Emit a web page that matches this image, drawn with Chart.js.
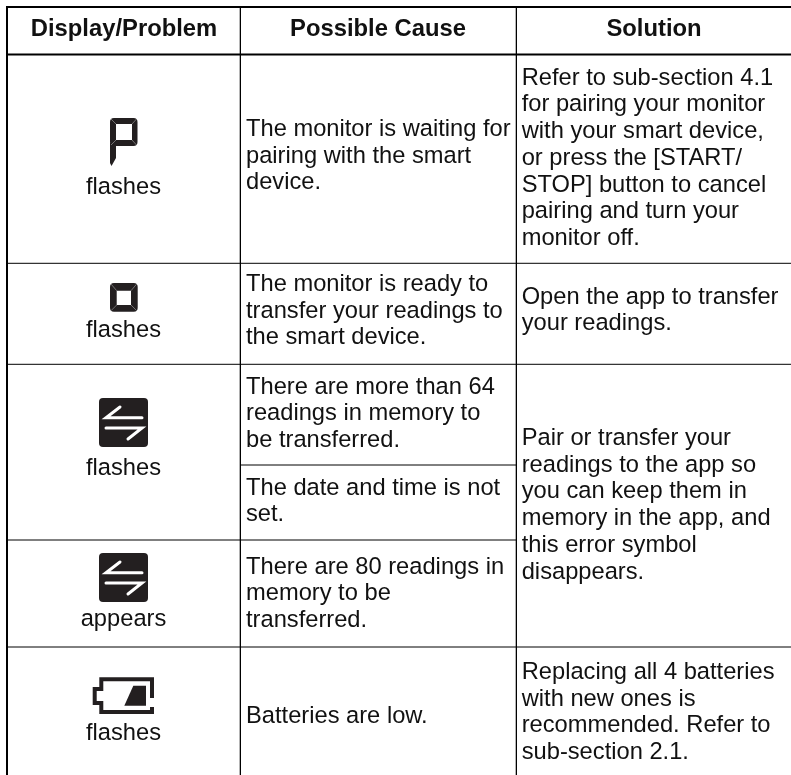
<!DOCTYPE html>
<html><head><meta charset="utf-8">
<style>html,body{margin:0;padding:0;background:#fff}#w{width:791px;height:775px;position:relative}</style>
<script src="https://cdn.jsdelivr.net/npm/chart.js@4"></script></head>
<body><div id="w"><canvas id="c" width="791" height="775"></canvas></div>
<script>
const columns = ["Display/Problem", "Possible Cause", "Solution"];
const displayLabels = ["flashes", "flashes", "flashes", "appears", "flashes"];
const causes = [
 ["The monitor is waiting for","pairing with the smart","device."],
 ["The monitor is ready to","transfer your readings to","the smart device."],
 ["There are more than 64","readings in memory to","be transferred."],
 ["The date and time is not","set."],
 ["There are 80 readings in","memory to be","transferred."],
 ["Batteries are low."]
];
const solutions = [
 ["Refer to sub-section 4.1","for pairing your monitor","with your smart device,","or press the [START/","STOP] button to cancel","pairing and turn your","monitor off."],
 ["Open the app to transfer","your readings."],
 ["Pair or transfer your","readings to the app so","you can keep them in","memory in the app, and","this error symbol","disappears."],
 ["Replacing all 4 batteries","with new ones is","recommended. Refer to","sub-section 2.1."]
];
const colEdges = [7, 240.4, 516.4, 791];
const rowEdges = [7, 54.5, 263.3, 364.3, 465, 540, 647, 775];
const F = '"Liberation Sans", Arial, sans-serif';
const LH = 26.7;
const labelBase = [194, 337, 475, 626, 740];
const causeBase = [136, 291, 393.7, 494.5, 573.5, 723];
const solutionBase = [84.7, 303.5, 445, 679];
const headerCenters = [124, 378, 654];
function seg(x0,y0,x1,y1,w){return {type:'line',data:[{x:x0,y:y0},{x:x1,y:y1}],borderColor:'#000',borderWidth:w,pointRadius:0,fill:false,tension:0};}
const [cL,c1,c2,cR]=colEdges, R=rowEdges;
const rules=[
 seg(cL-1,R[0],cR,R[0],2), seg(cL-1,R[1],cR,R[1],2.2),
 seg(cL,R[2],cR,R[2],1), seg(cL,R[3],cR,R[3],1),
 seg(c1,R[4],c2,R[4],1), seg(cL,R[5],c2,R[5],1),
 seg(cL,R[6],cR,R[6],1),
 seg(cL,R[0],cL,R[7],2), seg(c1,R[0],c1,R[7],1), seg(c2,R[0],c2,R[7],1)
];
const tablePlugin={id:'table',afterDatasetsDraw(ch){
 const c=ch.ctx,X=v=>ch.scales.x.getPixelForValue(v),Y=v=>ch.scales.y.getPixelForValue(v);
 c.save();c.fillStyle='#111';c.textBaseline='alphabetic';
 const block=(lines,x,base)=>lines.forEach((l,i)=>c.fillText(l,X(x),Y(base+i*LH)));
 c.font='bold 23.8px '+F;c.textAlign='center';
 columns.forEach((t,i)=>c.fillText(t,X(headerCenters[i]),Y(36.4)));
 c.font='23.7px '+F;
 displayLabels.forEach((t,i)=>c.fillText(t,X(123.5),Y(labelBase[i])));
 c.textAlign='left';
 causes.forEach((l,i)=>block(l,246,causeBase[i]));
 solutions.forEach((l,i)=>block(l,521.7,solutionBase[i]));
 const dark='#231f20';
 const poly=(pts)=>{pts.forEach(([x,y],i)=>i?c.lineTo(X(x),Y(y)):c.moveTo(X(x),Y(y)));c.closePath();};
 const ring=(l,t,r,b,il,it,ir,ib)=>{
  c.fillStyle=dark;c.beginPath();
  c.roundRect(X(l),Y(t),X(r)-X(l),Y(b)-Y(t),4);
  poly([[il,it],[il,ib],[ir,ib],[ir,it]]);
  c.fill('evenodd');
  c.strokeStyle='#a8a8a8';c.lineWidth=0.6;c.beginPath();
  [[l+1,t+1,il,it],[r-1,t+1,ir,it],[l+1,b-1,il,ib],[r-1,b-1,ir,ib]].forEach(([a,d,e,f])=>{c.moveTo(X(a),Y(d));c.lineTo(X(e),Y(f));});
  c.stroke();
 };
 // P tail drawn first so the ring sits over its top
 c.fillStyle=dark;c.beginPath();
 poly([[110,143],[116,143],[116,158],[111.5,166],[110,163]]);c.fill();
 ring(110,118,137.5,146,116,124,132,140);
 ring(110,283,137.7,311.7,116.7,290.7,131,305);
 // transfer icons
 [[99,398],[99,553]].forEach(([x,y])=>{
  c.fillStyle=dark;c.beginPath();c.roundRect(X(x),Y(y),49,49,4);c.fill();
  c.strokeStyle='#fff';c.lineWidth=3;c.lineCap='round';c.lineJoin='miter';
  c.beginPath();c.moveTo(X(x+21),Y(y+9));c.lineTo(X(x+7),Y(y+19.7));c.lineTo(X(x+43),Y(y+19.7));
  c.moveTo(X(x+7),Y(y+30));c.lineTo(X(x+43),Y(y+30));c.lineTo(X(x+29),Y(y+41));c.stroke();
 });
 // battery
 c.fillStyle=dark;c.lineCap='butt';c.lineJoin='miter';c.beginPath();
 poly([[124.3,705.7],[146,705.7],[146,685.7],[133.3,685.7]]);c.fill();
 c.strokeStyle=dark;c.lineWidth=4;c.beginPath();
 [[152,698],[152,679.3],[101.3,679.3],[101.3,689],[94.7,689],[94.7,703],[101.3,703],[101.3,712],[152,712],[152,707]]
  .forEach(([x,y],i)=>i?c.lineTo(X(x),Y(y)):c.moveTo(X(x),Y(y)));
 c.stroke();
 c.restore();
}};
new Chart(document.getElementById('c'),{
 type:'line',
 data:{datasets:rules},
 options:{responsive:false,animation:false,parsing:false,normalized:true,
  layout:{padding:0},
  plugins:{legend:{display:false},tooltip:{enabled:false},title:{display:false}},
  scales:{x:{type:'linear',min:0,max:791,display:false},y:{type:'linear',min:0,max:775,reverse:true,display:false}}},
 plugins:[tablePlugin]
});
</script></body></html>
